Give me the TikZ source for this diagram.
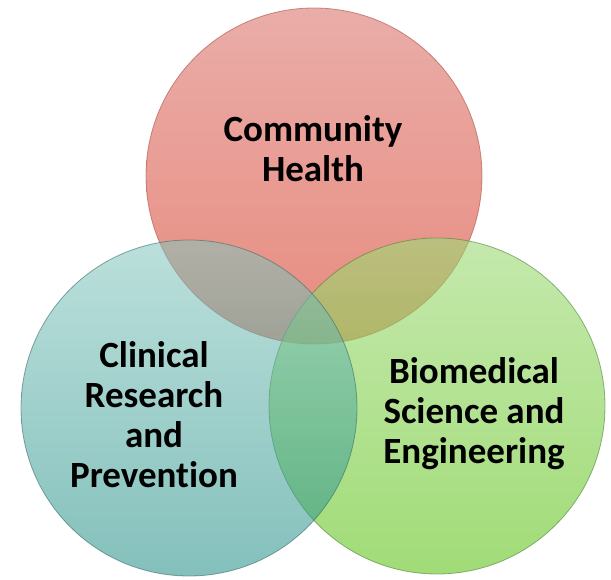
\documentclass[tikz,border=0pt]{standalone}
\usepackage{fontspec}
\setmainfont[Ligatures=NoCommon]{Carlito}
\usepackage{tikz}

\definecolor{redtop}{RGB}{220,118,110}
\definecolor{redbot}{RGB}{216,62,42}
\definecolor{redrim}{RGB}{170,80,70}
\definecolor{tealtop}{RGB}{132,198,190}
\definecolor{tealbot}{RGB}{30,140,132}
\definecolor{tealrim}{RGB}{60,110,105}
\definecolor{greentop}{RGB}{158,218,118}
\definecolor{greenbot}{RGB}{98,196,28}
\definecolor{greenrim}{RGB}{80,130,60}

\begin{document}
\begin{tikzpicture}[x=1pt,y=-1pt,
  area/.style={circle,minimum size=336pt,inner sep=0pt,fill opacity=0.6,draw opacity=0.6,line width=0.8pt},
  areatext/.style={font=\bfseries\fontsize{37}{40}\selectfont,align=center,text=black}]
\useasboundingbox (0,0) rectangle (611,580);

\node[area,top color=redtop,bottom color=redbot,draw=redrim] (community) at (314,176) {};
\node[area,top color=greentop,bottom color=greenbot,draw=greenrim] (biomed) at (437,406) {};
\node[area,top color=tealtop,bottom color=tealbot,draw=tealrim,fill opacity=0.55] (clinical) at (189,408) {};

\node[areatext] (communitytext) at (313,149) {Community\\Health};
\node[areatext] (clinicaltext) at (154,415) {Clinical\\Research\\and\\Prevention};
\node[areatext] (biomedtext) at (474,414) {Biomedical\\Science and\\Engineering};
\end{tikzpicture}
\end{document}
